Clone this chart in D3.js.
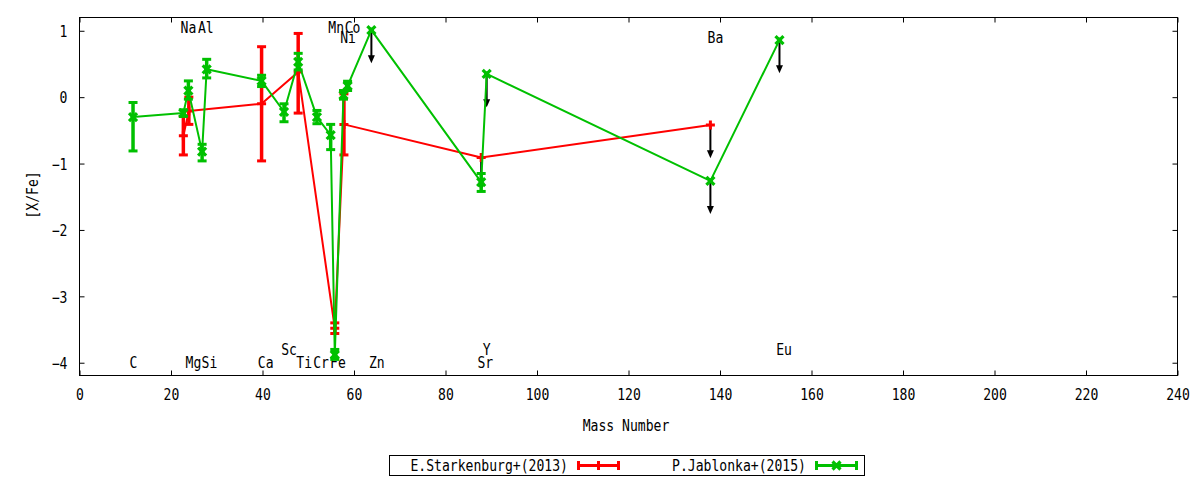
<!DOCTYPE html>
<html><head><meta charset="utf-8">
<script src="https://cdn.jsdelivr.net/npm/d3@7"></script>
<style>
body{margin:0;background:#fff}
text{font-family:"DejaVu Sans Mono",monospace;font-size:15.5px;fill:#000}
</style>
</head><body>
<svg id="chart" width="1200" height="480"></svg>
<script>
// ---- data ----
const starkMass  = [22.7, 23.9, 39.8, 47.8, 55.8, 57.8, 87.8, 137.9];
const starkVal   = [-0.58, -0.21, -0.10, 0.38, -3.48, -0.41, -0.91, -0.42];
const starkLow   = [-0.87, -0.41, -0.96, -0.24, -3.56, -0.87, -0.91, -0.42];
const starkHigh  = [-0.29, 0.00, 0.76, 0.96, -3.40, 0.05, -0.91, -0.42];
const starkUpper = [false, false, false, false, false, false, true, true];

const jabMass  = [11.7, 22.7, 23.8, 26.8, 27.8, 39.8, 44.7, 47.8, 51.9, 54.9, 55.8, 57.7, 58.6, 63.8, 87.8, 89.0, 137.9, 153.0];
const jabVal   = [-0.30, -0.24, 0.10, -0.82, 0.42, 0.245, -0.22, 0.53, -0.30, -0.57, -3.88, 0.03, 0.17, 1.01, -1.28, 0.35, -1.26, 0.86];
const jabLow   = [-0.81, -0.29, -0.03, -0.96, 0.29, 0.16, -0.37, 0.41, -0.40, -0.79, -3.95, -0.03, 0.10, 1.01, -1.42, 0.35, -1.26, 0.86];
const jabHigh  = [-0.08, -0.19, 0.245, -0.71, 0.57, 0.33, -0.10, 0.66, -0.20, -0.41, -3.80, 0.10, 0.24, 1.01, -1.15, 0.35, -1.26, 0.86];
const jabUpper = [false,false,false,false,false,false,false,false,false,false,false,false,false,true,false,true,true,true];

const limitLength = 0.5;

const elemNames = ["C","Na","Al","Mg","Si","Ca","Sc","Ti","Cr","Fe","Zn","Mn","Co","Ni","Y","Sr","Ba","Eu"];
const elemMass  = [11.8, 23.8, 27.6, 24.9, 28.4, 40.7, 45.8, 49.1, 52.8, 56.5, 65.0, 56.1, 59.7, 58.7, 89.0, 88.7, 139.0, 154.0];
const elemVal   = [-4, 1.05, 1.05, -4, -4, -4, -3.8, -4, -4, -4, -4, 1.05, 1.05, 0.9, -3.8, -4, 0.9, -3.8];

const xTicks = [0,20,40,60,80,100,120,140,160,180,200,220,240];
const yTicks = [-4,-3,-2,-1,0,1];

const seriesNames = ["E.Starkenburg+(2013)", "P.Jablonka+(2015)"];
const seriesColors = ["#ff0000", "#00c000"];

// ---- chart ----
const CHAR_W = 7.88;
function fitText(sel){
  sel.each(function(){
    const t = d3.select(this);
    const s = t.text();
    if(s.length) t.attr("textLength", s.length*CHAR_W).attr("lengthAdjust","spacingAndGlyphs");
  });
}

const svg = d3.select("#chart");
const x = d3.scaleLinear().domain([0,240]).range([79.5,1177.5]);
const y = d3.scaleLinear().domain([-4.2,1.2]).range([376,17.5]);

// axes (inward ticks)
const gx = svg.append("g").attr("transform","translate(0,375.5)")
  .call(d3.axisBottom(x).tickValues(xTicks).tickFormat(d3.format("d")).tickSizeInner(-5).tickSizeOuter(0).tickPadding(13.5));
const gy = svg.append("g").attr("transform","translate(79.5,0)")
  .call(d3.axisLeft(y).tickValues(yTicks).tickFormat(d3.format("d")).tickSizeInner(-5).tickSizeOuter(0).tickPadding(12));
const gxt = svg.append("g").attr("transform","translate(0,17.5)")
  .call(d3.axisTop(x).tickValues(xTicks).tickFormat("").tickSizeInner(-5).tickSizeOuter(0));
const gyr = svg.append("g").attr("transform","translate(1177.5,0)")
  .call(d3.axisRight(y).tickValues(yTicks).tickFormat("").tickSizeInner(-5).tickSizeOuter(0));
[gx,gy,gxt,gyr].forEach(g=>{
  g.select(".domain").remove();
  g.selectAll("line").attr("stroke","#000").attr("stroke-width",1);
  g.selectAll("text").attr("font-family",'"DejaVu Sans Mono",monospace').attr("font-size",15.5).attr("fill","#000").call(fitText);
});
gy.selectAll("text").attr("dy","0.37em");
svg.append("rect").attr("x",79.5).attr("y",17.5).attr("width",1098).attr("height",358)
  .attr("fill","none").attr("stroke","#000").attr("stroke-width",1);

// axis titles
svg.append("text").attr("x",626).attr("y",430.5).attr("text-anchor","middle").text("Mass Number").call(fitText);
svg.append("text").attr("transform","translate(38,195) rotate(-90)").attr("text-anchor","middle").text("[X/Fe]").call(fitText);

// element labels
svg.append("g").selectAll("text").data(elemNames).join("text")
  .attr("x",(d,i)=>x(elemMass[i])).attr("y",(d,i)=>y(elemVal[i])+5.7)
  .attr("text-anchor","middle").text(d=>d).call(fitText);

// upper-limit arrows (behind series)
function drawArrows(mass, val, upper){
  const g = svg.append("g");
  mass.forEach((m,i)=>{
    if(!upper[i]) return;
    const x0 = x(m), y0 = y(val[i]), y1 = y(val[i]-limitLength);
    g.append("line").attr("x1",x0).attr("x2",x0).attr("y1",y0).attr("y2",y1-6)
      .attr("stroke","#000").attr("stroke-width",2);
    g.append("path").attr("d",`M${x0-3.5},${y1-8}L${x0+3.5},${y1-8}L${x0},${y1}Z`).attr("fill","#000");
  });
}
drawArrows(starkMass, starkVal, starkUpper);
drawArrows(jabMass, jabVal, jabUpper);

function drawMarker(g, cx, cy, color, marker){
  if(marker==="plus"){
    g.append("path").attr("d",`M${cx-4.5},${cy}H${cx+4.5}M${cx},${cy-4.5}V${cy+4.5}`)
      .attr("stroke",color).attr("stroke-width",3).attr("fill","none");
  } else {
    g.append("path").attr("d",`M${cx-4},${cy-4}L${cx+4},${cy+4}M${cx-4},${cy+4}L${cx+4},${cy-4}`)
      .attr("stroke",color).attr("stroke-width",3.2).attr("fill","none");
    g.append("rect").attr("x",cx-2.5).attr("y",cy-2.5).attr("width",5).attr("height",5).attr("fill",color);
  }
}
function drawSeries(mass, val, low, high, upper, color, marker){
  const g = svg.append("g");
  const pts = mass.map((m,i)=>[m,val[i]]);
  g.append("path").attr("d", d3.line().x(d=>x(d[0])).y(d=>y(d[1]))(pts))
    .attr("fill","none").attr("stroke",color).attr("stroke-width",2).attr("stroke-linejoin","round");
  mass.forEach((m,i)=>{
    const cx = x(m);
    if(!upper[i]){
      g.append("line").attr("x1",cx).attr("x2",cx).attr("y1",y(low[i])).attr("y2",y(high[i]))
        .attr("stroke",color).attr("stroke-width",3.5);
      [low[i],high[i]].forEach(v=>{
        g.append("line").attr("x1",cx-4.5).attr("x2",cx+4.5).attr("y1",y(v)).attr("y2",y(v))
          .attr("stroke",color).attr("stroke-width",3);
      });
    }
    drawMarker(g, cx, y(val[i]), color, marker);
  });
}
drawSeries(starkMass, starkVal, starkLow, starkHigh, starkUpper, seriesColors[0], "plus");
drawSeries(jabMass, jabVal, jabLow, jabHigh, jabUpper, seriesColors[1], "x");

// legend
const lg = svg.append("g");
lg.append("rect").attr("x",389.5).attr("y",455.5).attr("width",475).attr("height",20)
  .attr("fill","#fff").attr("stroke","#000").attr("stroke-width",1);
const legendTextEnd = [568, 806];
const legendSample = [[577,620],[815,858]];
seriesNames.forEach((name,i)=>{
  lg.append("text").attr("x",legendTextEnd[i]).attr("y",470.5)
    .attr("text-anchor","end").text(name).call(fitText);
  const [a,b] = legendSample[i];
  const c = seriesColors[i];
  lg.append("line").attr("x1",a).attr("x2",b).attr("y1",465.5).attr("y2",465.5).attr("stroke",c).attr("stroke-width",3);
  [a+1.5,b-1.5].forEach(px=>lg.append("line").attr("x1",px).attr("x2",px).attr("y1",461).attr("y2",470)
    .attr("stroke",c).attr("stroke-width",3));
  drawMarker(lg, (a+b)/2, 465.5, c, i===0?"plus":"x");
});
</script>
</body></html>
